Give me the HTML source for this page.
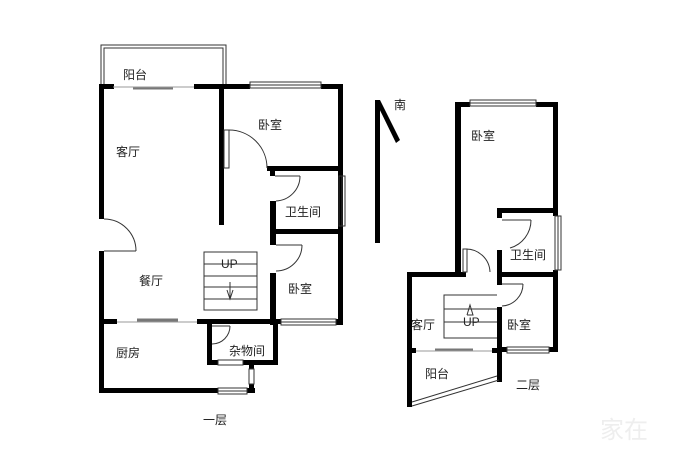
<!DOCTYPE html>
<html><head><meta charset="utf-8"><style>
html,body{margin:0;padding:0;background:#fff;width:700px;height:450px;overflow:hidden}
svg text{font-family:"Liberation Sans","Noto Sans CJK SC",sans-serif;font-size:12px;fill:#222}
</style></head><body>
<svg width="700" height="450" viewBox="0 0 700 450" xmlns="http://www.w3.org/2000/svg">
<g fill="#000">
<rect x="99" y="84" width="15" height="5"/>
<rect x="194" y="84" width="56" height="5"/>
<rect x="321" y="84" width="22" height="5"/>
<rect x="99" y="84" width="5" height="135"/>
<rect x="99" y="251" width="5" height="142"/>
<rect x="338" y="84" width="5" height="241"/>
<rect x="219" y="84" width="5" height="141"/>
<rect x="267" y="166" width="76" height="5"/>
<rect x="270" y="166" width="5" height="10"/>
<rect x="270" y="201" width="6" height="44"/>
<rect x="270" y="229" width="70" height="5"/>
<rect x="270" y="273" width="6" height="52"/>
<rect x="336" y="319" width="7" height="6"/>
<rect x="99" y="319" width="18" height="5"/>
<rect x="197" y="319" width="84" height="5"/>
<rect x="207" y="319" width="5" height="46"/>
<rect x="207" y="360" width="11" height="5"/>
<rect x="243" y="360" width="35" height="5"/>
<rect x="273" y="319" width="5" height="46"/>
<rect x="99" y="388" width="119" height="5"/>
<rect x="247" y="388" width="8" height="5"/>
<rect x="249" y="365" width="5" height="4"/>
<rect x="249" y="384" width="5" height="9"/>
<rect x="375" y="100" width="5" height="143"/>
<polygon points="375,100 380,100 400,140 396,143"/>
<rect x="455" y="102" width="15" height="5"/>
<rect x="536" y="102" width="22" height="5"/>
<rect x="455" y="102" width="6" height="175"/>
<rect x="553" y="102" width="5" height="114"/>
<rect x="553" y="270" width="5" height="82"/>
<rect x="497" y="208" width="61" height="5"/>
<rect x="497" y="208" width="5" height="10"/>
<rect x="497" y="250" width="5" height="35"/>
<rect x="407" y="272" width="59" height="5"/>
<rect x="497" y="272" width="61" height="5"/>
<rect x="497" y="307" width="5" height="45"/>
<rect x="497" y="347" width="10" height="5"/>
<rect x="549" y="347" width="9" height="5"/>
<rect x="407" y="272" width="5" height="135"/>
<rect x="407" y="348" width="9" height="5"/>
<rect x="492" y="348" width="10" height="5"/>
<rect x="497" y="348" width="5" height="34"/>
</g>
<g fill="none" stroke="#333" stroke-width="1">
<polyline points="101,84 101,45 226,45 226,84"/>
<polyline points="104,84 104,48 223,48 223,84"/>
<rect x="250" y="82" width="71" height="6"/><line x1="250" y1="85" x2="321" y2="85"/>
<rect x="339" y="176" width="6" height="50"/><line x1="342" y1="176" x2="342" y2="226"/>
<rect x="281" y="319" width="55" height="6"/><line x1="281" y1="322" x2="336" y2="322"/>
<rect x="218" y="360" width="25" height="5"/>
<rect x="218" y="388" width="29" height="6"/><line x1="218" y1="391" x2="247" y2="391"/>
<rect x="249" y="369" width="5" height="15"/>
<rect x="224" y="130" width="5" height="38" fill="#fff"/>
<path d="M229,130 A38,38 0 0 1 267,168"/>
<line x1="275" y1="176" x2="300" y2="176"/><path d="M300,176 A25,25 0 0 1 276,201"/>
<line x1="276" y1="245" x2="302" y2="245"/><path d="M302,245 A26,26 0 0 1 276,271"/>
<line x1="104" y1="251" x2="136" y2="251"/><path d="M104,219 A32,32 0 0 1 136,251"/>
<path d="M230,326 A18,18 0 0 1 212,344"/><line x1="212" y1="326" x2="230" y2="326"/>
<rect x="204" y="252" width="53" height="58"/>
<line x1="204" y1="264" x2="257" y2="264"/>
<line x1="204" y1="276" x2="257" y2="276"/>
<line x1="204" y1="287" x2="257" y2="287"/>
<line x1="204" y1="299" x2="257" y2="299"/>
<line x1="230" y1="282" x2="230" y2="298"/>
<polyline points="227,290 230,299 233,290"/>
<rect x="470" y="100" width="66" height="6"/><line x1="470" y1="103" x2="536" y2="103"/>
<rect x="555" y="216" width="6" height="54"/><line x1="558" y1="216" x2="558" y2="270"/>
<rect x="507" y="347" width="42" height="6"/><line x1="507" y1="350" x2="549" y2="350"/>
<line x1="502" y1="220" x2="531" y2="220"/><path d="M531,220 A29,29 0 0 1 510,248"/>
<rect x="463" y="249" width="4" height="23" fill="#fff"/><path d="M466,249 A24,24 0 0 1 490,272"/>
<line x1="502" y1="284" x2="523" y2="284"/><path d="M523,284 A22,22 0 0 1 502,306"/>
<polyline points="497,295 444,295 444,338 497,338"/>
<line x1="444" y1="309" x2="497" y2="309"/>
<line x1="444" y1="322" x2="497" y2="322"/>
<polyline points="467,315 470,305 473,315 467,315"/>
<line x1="412" y1="402" x2="497" y2="376"/>
<line x1="412" y1="406" x2="499" y2="380"/>
</g>
<g stroke="#777" stroke-width="3">
<line x1="133" y1="88" x2="173" y2="88"/>
<line x1="137" y1="320" x2="178" y2="320"/>
<line x1="435" y1="350" x2="473" y2="350"/>
</g>
<g stroke="#999" stroke-width="1">
<line x1="113" y1="87" x2="194" y2="87"/>
<line x1="117" y1="322" x2="197" y2="322"/>
<line x1="416" y1="351" x2="492" y2="351"/>
</g>
<g font-size="12">
<text x="123" y="79">阳台</text>
<text x="116" y="156">客厅</text>
<text x="258" y="129">卧室</text>
<text x="285" y="216">卫生间</text>
<text x="139" y="285">餐厅</text>
<text x="288" y="293">卧室</text>
<text x="116" y="357">厨房</text>
<text x="229" y="355">杂物间</text>
<text x="203" y="424">一层</text>
<text x="394" y="109">南</text>
<text x="471" y="140">卧室</text>
<text x="510" y="259">卫生间</text>
<text x="411" y="329">客厅</text>
<text x="507" y="329">卧室</text>
<text x="425" y="378">阳台</text>
<text x="516" y="389">二层</text>
<text x="221" y="268" font-size="9">UP</text>
<text x="463" y="326" font-size="9">UP</text>
</g>
<text x="600" y="438" style="font-size:24px;fill:#eee">家在</text>
</svg>
</body></html>
